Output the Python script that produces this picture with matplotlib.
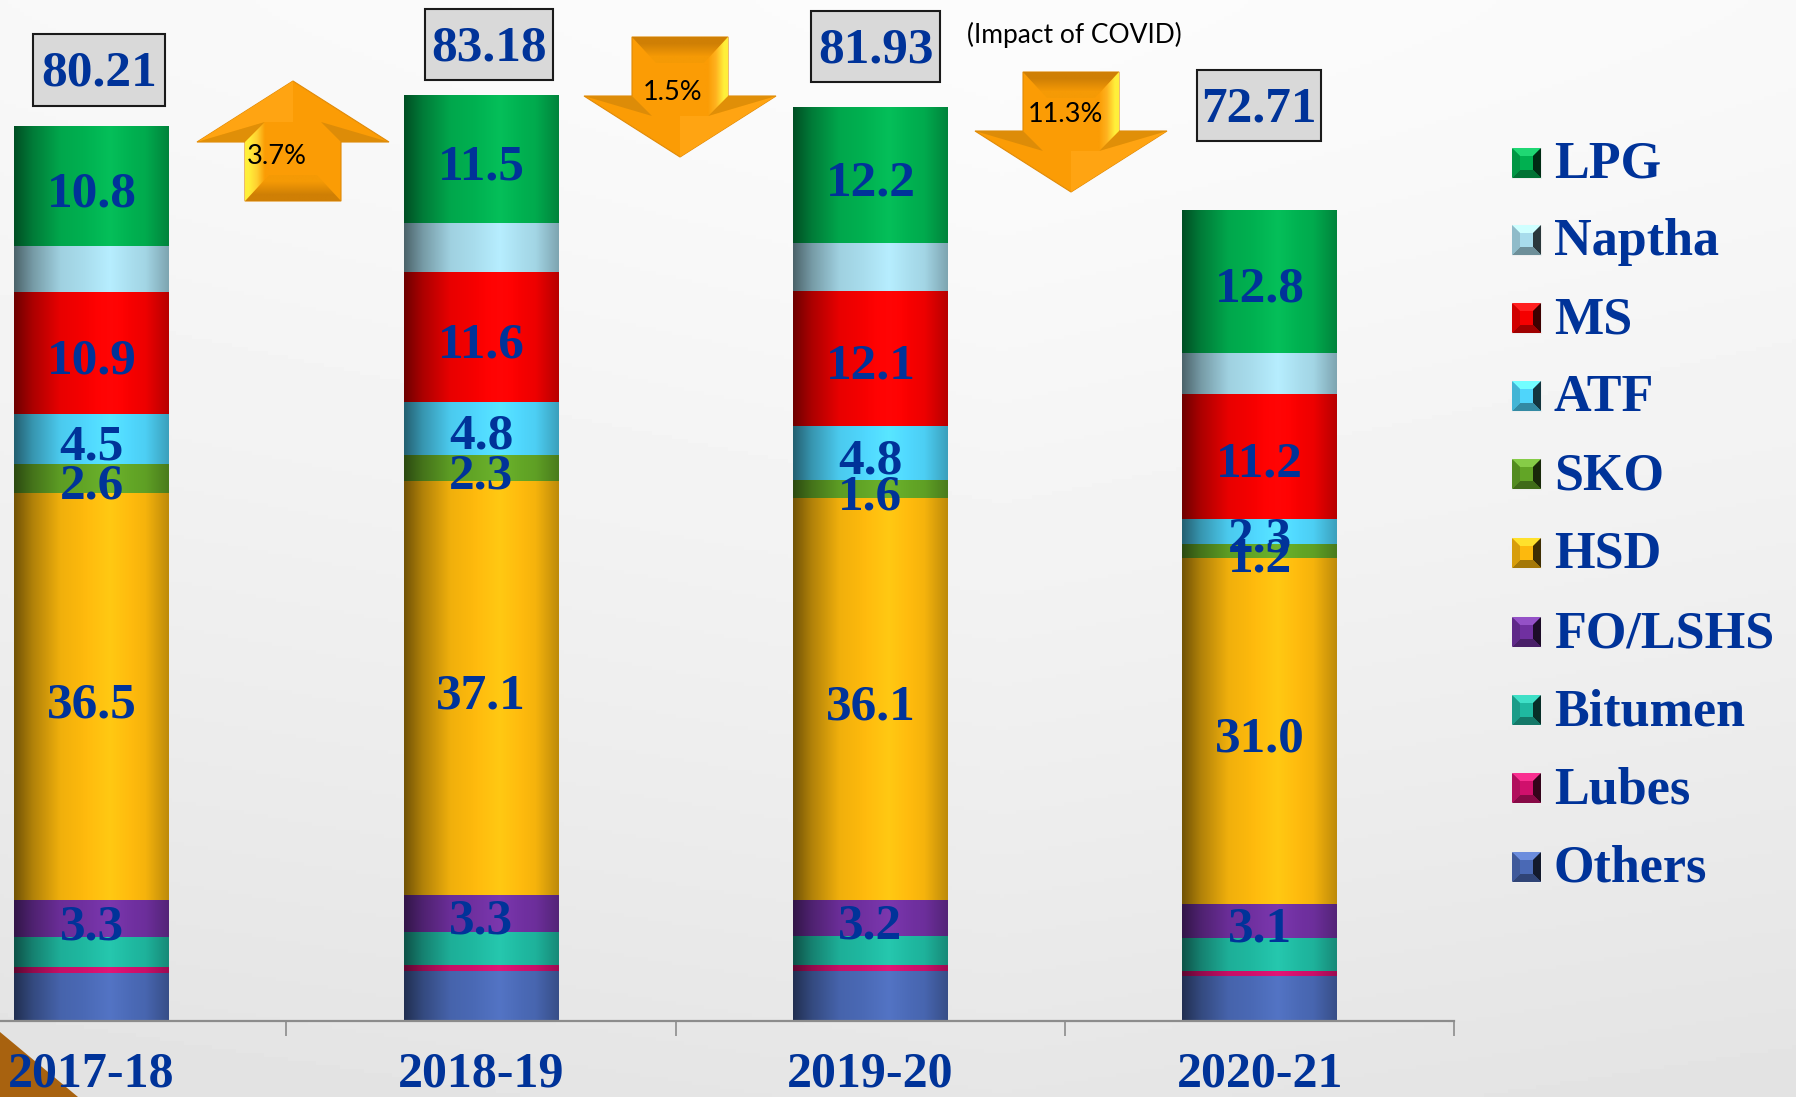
import matplotlib
matplotlib.use('Agg')
import matplotlib.pyplot as plt
from matplotlib.colors import to_rgb
from matplotlib.patches import Polygon, Rectangle
import numpy as np

W, H = 1796, 1097
SERIF = 'Liberation Serif'
SANS = 'Lato'
BLUE = '#003399'

# values, one list per fuel, one entry per year
years = ['2017-18', '2018-19', '2019-20', '2020-21']
totals = ['80.21', '83.18', '81.93', '72.71']
changes = ['3.7%', '1.5%', '11.3%']

lpg = [10.8, 11.5, 12.2, 12.8]
naptha = [4.1, 4.4, 4.3, 3.7]
ms = [10.9, 11.6, 12.1, 11.2]
atf = [4.5, 4.8, 4.8, 2.3]
sko = [2.6, 2.3, 1.6, 1.2]
hsd = [36.5, 37.1, 36.1, 31.0]
fo = [3.3, 3.3, 3.2, 3.1]
bitumen = [2.7, 3.0, 2.6, 2.9]
lubes = [0.5, 0.5, 0.5, 0.5]
others = [4.3, 4.5, 4.5, 4.0]

# top of the legend first, same as the bar from top to bottom
names = ['LPG', 'Naptha', 'MS', 'ATF', 'SKO', 'HSD', 'FO/LSHS', 'Bitumen', 'Lubes', 'Others']
series = [lpg, naptha, ms, atf, sko, hsd, fo, bitumen, lubes, others]
colors = ['#00b050', '#a8dcec', '#f50000', '#4fd5fb', '#62a526',
          '#fdb90d', '#7030a0', '#1fb8a0', '#d0106c', '#4a69b5']
labelled = ['LPG', 'MS', 'ATF', 'SKO', 'HSD', 'FO/LSHS']


def shade(color, n=200):
    """left to right cylinder look for one colour"""
    t = np.linspace(0, 1, n)
    f = np.interp(t, [0, 0.12, 0.3, 0.62, 0.85, 1], [0.45, 0.7, 0.95, 1.06, 0.97, 0.75])
    rgb = np.array(to_rgb(color))
    out = np.outer(f, rgb)
    # above 1 goes towards white
    extra = np.clip(f - 1, 0, None)[:, None]
    out = np.clip(out + extra * 0.3, 0, 1)
    return out[None, :, :]


def draw_arrow(ax, cx, y0, s, text, tx, ty):
    """s=1 points down with y0 the top, s=-1 points up with y0 the bottom"""
    def P(*uv):
        return [(cx + s * u, y0 + s * v) for u, v in uv]

    outline = P((-48, 0), (48, 0), (48, 59), (96, 59), (0, 120), (-96, 59), (-48, 59))
    ax.add_patch(Polygon(outline, closed=True, fc='#fb9c05', ec='#e08a08', lw=0.8, zorder=3))
    ax.add_patch(Polygon(P((0, 79), (0, 120), (96, 59), (28, 79)), closed=True, fc='#ffa412', ec='none', zorder=3.1))
    ax.add_patch(Polygon(P((-96, 59), (-48, 59), (-28, 79)), closed=True, fc='#dd8c08', ec='none', zorder=3.2))
    ax.add_patch(Polygon(P((96, 59), (48, 59), (28, 79)), closed=True, fc='#e08f08', ec='none', zorder=3.2))

    # top of the shaft
    top = Polygon(P((-48, 0), (48, 0), (24, 26), (-24, 26)), closed=True, fc='none', ec='none', zorder=3.3)
    ax.add_patch(top)
    c0, c1 = ('#cf7f05', '#f59a05') if s > 0 else ('#f59a05', '#cf7f05')
    pts = np.array(P((-48, 0), (48, 26)))
    im = ax.imshow(np.array([[to_rgb(c0)], [to_rgb(c1)]]), aspect='auto', zorder=3.3, interpolation='bilinear',
                   extent=[pts[:, 0].min(), pts[:, 0].max(), pts[:, 1].max(), pts[:, 1].min()])
    im.set_clip_path(top)

    # bright side panel
    side = Polygon(P((48, 0), (24, 26), (28, 79), (48, 59)), closed=True, fc='none', ec='none', zorder=3.3)
    ax.add_patch(side)
    c0, c1 = ('#fb9c05', '#ffef3a') if s > 0 else ('#ffef3a', '#fb9c05')
    pts = np.array(P((24, 0), (48, 79)))
    im = ax.imshow(np.array([[to_rgb(c0), to_rgb('#ffb320' if s > 0 else '#ffd030'), to_rgb(c1)]]),
                   aspect='auto', zorder=3.3, interpolation='bilinear',
                   extent=[pts[:, 0].min(), pts[:, 0].max(), pts[:, 1].max(), pts[:, 1].min()])
    im.set_clip_path(side)

    ax.text(tx, ty, text, fontsize=19.5, family=SANS, color='black', ha='center', va='center', zorder=4)


fig = plt.figure(figsize=(W / 100, H / 100), dpi=100)

# background
bg = fig.add_axes([0, 0, 1, 1], zorder=0)
yy, xx = np.mgrid[0:H:4, 0:W:4]
grey = (252 - 22 * (yy / H) ** 1.3 - 4 * np.abs(xx - 1000) / 1000) / 255
bg.imshow(grey, cmap='gray', vmin=0, vmax=1, extent=[0, W, H, 0], aspect='auto')
bg.add_patch(Polygon([(0, 1032), (0, H), (78, H)], closed=True, fc='#a8620f', ec='none'))
bg.set_xlim(0, W)
bg.set_ylim(H, 0)
bg.axis('off')

# chart itself, the axes fill the figure so the limits set the position
ax = fig.add_axes([0, 0, 1, 1], zorder=1)
ax.patch.set_alpha(0)
x0_px, step_px, base_px, unit_px = 91.6, 389.4, 1021, 11.16
x = np.arange(len(years))
bottom = np.zeros(len(years))
for name, vals, col in reversed(list(zip(names, series, colors))):
    bars = ax.bar(x, vals, width=155 / step_px, bottom=bottom, color=col, linewidth=0, zorder=2)
    for b in bars:
        im = ax.imshow(shade(col), aspect='auto', zorder=2.1, interpolation='bilinear',
                       extent=[b.get_x(), b.get_x() + b.get_width(), b.get_y(), b.get_y() + b.get_height()])
        im.set_clip_path(b)
    if name in labelled:
        for i, v in enumerate(vals):
            ax.annotate(f'{v:.1f}', (i, bottom[i] + v / 2), xytext=(0, -6), textcoords='offset points',
                        ha='center', va='center', fontsize=37, family=SERIF, weight='bold',
                        color=BLUE, zorder=5)
    bottom += np.array(vals)

ax.set_xlim(-x0_px / step_px, (W - x0_px) / step_px)
ax.set_ylim(-(H - base_px) / unit_px, base_px / unit_px)
for side in ['top', 'left', 'right']:
    ax.spines[side].set_visible(False)
ax.spines['bottom'].set_position(('data', 0))
ax.spines['bottom'].set_bounds(-0.5, 3.5)
ax.spines['bottom'].set_color('#8c8c8c')
ax.spines['bottom'].set_linewidth(1.6)
ax.set_yticks([])
ax.set_xticks(x + 0.5)
ax.set_xticklabels([])
ax.tick_params(axis='x', which='major', length=11, width=1.2, color='#8c8c8c', direction='out')
ax.set_xticks(x, minor=True)
ax.set_xticklabels(years, minor=True, fontsize=36, family=SERIF, weight='bold', color=BLUE)
ax.tick_params(axis='x', which='minor', length=0, pad=22)

# boxes, arrows, legend in pixel coordinates
ov = fig.add_axes([0, 0, 1, 1], zorder=2)
ov.patch.set_alpha(0)

box_x = [(33, 165), (425, 553), (811, 940), (1197, 1321)]
box_y = [(34, 106), (9, 80), (11, 82), (70, 141)]
for (xa, xb), (ya, yb), t in zip(box_x, box_y, totals):
    ov.add_patch(Rectangle((xa, ya), xb - xa, yb - ya, fc='#d9d9d9', ec='#1a1a1a', lw=1.5, zorder=2))
    ov.text((xa + xb) / 2, (ya + yb) / 2 + 4, t, fontsize=37, family=SERIF, weight='bold', color=BLUE,
            ha='center', va='center', zorder=3)

draw_arrow(ov, 293, 201, -1, changes[0], 277, 157)
draw_arrow(ov, 680, 37, 1, changes[1], 673, 92)
draw_arrow(ov, 1071, 72, 1, changes[2], 1065, 115)
ov.text(1074, 35, '(Impact of COVID)', fontsize=19, family=SANS, color='black', ha='center', va='center')

legend_y = [163, 240, 318, 396, 474, 553, 632, 710, 788, 867]
for name, col, ly in zip(names, colors, legend_y):
    a, b, c, d = 1512, 1541, ly - 15, ly + 15
    r = np.array(to_rgb(col))
    m = 8
    ov.add_patch(Rectangle((a, c), b - a, d - c, fc=col, ec='#eeeeee', lw=0.8, zorder=2))
    # bevel on the four sides of the marker
    ov.add_patch(Polygon([(a, c), (b, c), (b - m, c + m), (a + m, c + m)], closed=True,
                         fc=np.clip(r * 1.05 + 0.12, 0, 1), ec='none', zorder=3))
    ov.add_patch(Polygon([(b, c), (b, d), (b - m, d - m), (b - m, c + m)], closed=True,
                         fc=r * 0.25, ec='none', zorder=3))
    ov.add_patch(Polygon([(a, d), (b, d), (b - m, d - m), (a + m, d - m)], closed=True,
                         fc=r * 0.65, ec='none', zorder=3))
    ov.add_patch(Polygon([(a, c), (a, d), (a + m, d - m), (a + m, c + m)], closed=True,
                         fc=r * 0.85, ec='none', zorder=3))
    ov.text(1554, ly + 2, name, fontsize=37.5, family=SERIF, weight='bold', color=BLUE, ha='left', va='center')

ov.set_xlim(0, W)
ov.set_ylim(H, 0)
ov.axis('off')

fig.savefig('out.png', dpi=100)
